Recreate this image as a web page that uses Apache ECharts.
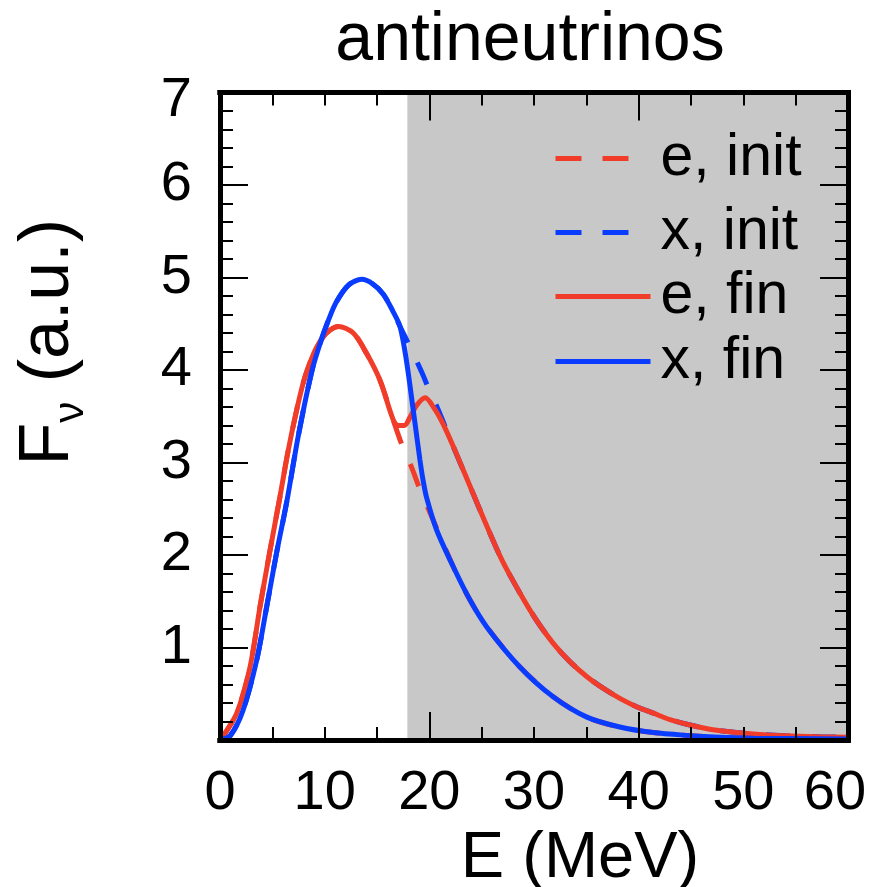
<!DOCTYPE html>
<html>
<head>
<meta charset="utf-8">
<script src="https://cdn.jsdelivr.net/npm/echarts@6/dist/echarts.min.js"></script>
<style>
  html, body { margin: 0; padding: 0; background: #fff; }
  #chart { width: 877px; height: 887px; }
</style>
</head>
<body>
<div id="chart"></div>
<script>
// Antineutrino spectra, [E (MeV), F_nu (a.u.)]
const eFin = [
  [0, 0], [0.3, 0.04], [1.6, 0.29], [2.87, 0.79], [3.82, 1.44], [4.78, 2.05],
  [5.73, 2.63], [6.5, 3.12], [7.33, 3.57], [8.0, 3.88], [8.6, 4.08], [9.2, 4.24],
  [9.87, 4.36], [10.5, 4.43], [11.3, 4.47], [12.73, 4.40], [14.0, 4.18], [15.28, 3.89],
  [16.55, 3.46], [17.0, 3.40], [17.6, 3.40], [18.2, 3.50], [18.8, 3.62], [19.6, 3.70],
  [20.5, 3.58], [21.3, 3.42], [22.3, 3.17], [23.9, 2.74], [25.5, 2.31], [27.0, 1.93],
  [28.65, 1.59], [30.2, 1.30], [31.8, 1.05], [33.4, 0.85], [35.0, 0.69], [36.6, 0.56],
  [38.2, 0.45], [39.8, 0.36], [41.4, 0.29], [43.0, 0.22], [44.6, 0.17], [46.2, 0.13],
  [47.8, 0.10], [50.9, 0.065], [54.1, 0.045], [57.3, 0.035], [60, 0.03]
];
const xFin = [
  [0, 0], [1.0, 0.05], [2.2, 0.32], [3.5, 0.86], [4.46, 1.44], [5.4, 2.02],
  [6.37, 2.57], [7.5, 3.30], [8.76, 3.98], [9.6, 4.30], [10.4, 4.55], [11.14, 4.74],
  [12.3, 4.92], [13.53, 4.98], [14.6, 4.93], [15.6, 4.82], [16.5, 4.64], [17.2, 4.47],
  [17.8, 4.11], [18.46, 3.57], [19.1, 3.03], [19.4, 2.81], [19.74, 2.62], [20.7, 2.27],
  [22.3, 1.87], [23.9, 1.51], [25.5, 1.22], [28.65, 0.79], [31.8, 0.47], [35.0, 0.25],
  [38.2, 0.14], [41.4, 0.08], [44.6, 0.05], [47.8, 0.03], [51.0, 0.02], [55.0, 0.015],
  [60, 0.01]
];
const eInit = [
  [0, 0], [0.3, 0.04], [1.6, 0.29], [2.87, 0.79], [3.82, 1.44], [4.78, 2.05],
  [5.73, 2.63], [6.5, 3.12], [7.33, 3.57], [8.0, 3.88], [8.6, 4.08], [9.2, 4.24],
  [9.87, 4.36], [10.5, 4.43], [11.3, 4.47], [12.73, 4.40], [14.0, 4.18], [15.28, 3.89],
  [16.55, 3.46], [17.35, 3.20], [18.3, 2.95], [19.0, 2.74], [19.9, 2.50], [20.7, 2.29],
  [22.3, 1.87], [23.9, 1.51], [25.5, 1.22], [28.65, 0.79], [31.8, 0.47], [35.0, 0.25],
  [38.2, 0.14], [41.4, 0.08], [44.6, 0.05], [47.8, 0.03], [51.0, 0.02], [55.0, 0.015],
  [60, 0.01]
];
const xInit = [
  [0, 0], [1.0, 0.05], [2.2, 0.32], [3.5, 0.86], [4.46, 1.44], [5.4, 2.02],
  [6.37, 2.57], [7.5, 3.30], [8.76, 3.98], [9.6, 4.30], [10.4, 4.55], [11.14, 4.74],
  [12.3, 4.92], [13.53, 4.98], [14.6, 4.93], [15.6, 4.82], [16.5, 4.64], [17.2, 4.47],
  [18.15, 4.25], [19.26, 3.98], [20.0, 3.78], [20.85, 3.57], [22.3, 3.17], [23.9, 2.74],
  [25.5, 2.31], [27.0, 1.93], [28.65, 1.59], [30.2, 1.30], [31.8, 1.05], [33.4, 0.85],
  [35.0, 0.69], [36.6, 0.56], [38.2, 0.45], [39.8, 0.36], [41.4, 0.29], [43.0, 0.22],
  [44.6, 0.17], [46.2, 0.13], [47.8, 0.10], [50.9, 0.065], [54.1, 0.045], [57.3, 0.035],
  [60, 0.03]
];

// Shaded energy band [from, to] in MeV
const shadedBand = [17.9, 60];

// Axis ranges and labelled ticks
const xRange = [0, 60];
const yRange = [0, 7];
const xLabels = [0, 10, 20, 30, 40, 50, 60];
const yLabels = [1, 2, 3, 4, 5, 6, 7];

const seriesNames = ['e, init', 'x, init', 'e, fin', 'x, fin'];

const FONT = '"Liberation Sans", Arial, Helvetica, sans-serif';
const RED = '#f03c28';
const BLUE = '#0a3cff';
const TICK_FS = 56;

function isInt(v) { return Math.abs(v - Math.round(v)) < 1e-6; }

function frameLine() {
  return { show: true, onZero: false, lineStyle: { color: '#000', width: 5, cap: 'square' } };
}
function ticks(len) {
  return { show: true, inside: true, length: len, lineStyle: { color: '#000', width: 2 } };
}

function xAxisDef(position, interval, len, withLabels) {
  const ax = {
    type: 'value', gridIndex: 0, position: position,
    min: xRange[0], max: xRange[1], interval: interval, z: 5,
    axisLine: frameLine(), axisTick: ticks(len),
    splitLine: { show: false }, axisLabel: { show: false }
  };
  if (withLabels) {
    ax.axisLabel = {
      show: true, margin: 26, showMinLabel: true, showMaxLabel: true, hideOverlap: false,
      formatter: function (v) {
        if (!isInt(v) || xLabels.indexOf(Math.round(v)) < 0) return '';
        const r = Math.round(v);
        return r === xRange[1] ? '{end|' + r + '}' : '{n|' + r + '}';
      },
      rich: {
        n: { fontSize: TICK_FS, fontFamily: FONT, color: '#000' },
        end: { fontSize: TICK_FS, fontFamily: FONT, color: '#000', padding: [0, 26, 0, 0] }
      }
    };
    ax.name = 'E (MeV)';
    ax.nameLocation = 'middle';
    ax.nameGap = 80;
    ax.nameTextStyle = { fontSize: 65, fontFamily: FONT, color: '#000', padding: [0, 0, 0, 92] };
  }
  return ax;
}

function yAxisDef(position, interval, len, withLabels) {
  const ax = {
    type: 'value', gridIndex: 0, position: position,
    min: yRange[0], max: yRange[1], interval: interval, z: 5,
    axisLine: frameLine(), axisTick: ticks(len),
    splitLine: { show: false }, axisLabel: { show: false }
  };
  if (withLabels) {
    ax.axisLabel = {
      show: true, margin: 28, showMinLabel: true, showMaxLabel: true, hideOverlap: false,
      formatter: function (v) {
        if (!isInt(v) || yLabels.indexOf(Math.round(v)) < 0) return '';
        const r = Math.round(v);
        return r === yRange[1] ? '{top|' + r + '}' : '{n|' + r + '}';
      },
      rich: {
        n: { fontSize: TICK_FS, fontFamily: FONT, color: '#000' },
        top: { fontSize: TICK_FS, fontFamily: FONT, color: '#000', padding: [16, 0, 0, 0] }
      }
    };
    ax.name = '{a|F}{s|ν}{a| (a.u.)}';
    ax.nameLocation = 'middle';
    ax.nameRotate = 90;
    ax.nameGap = 128;
    ax.nameTextStyle = {
      padding: [0, 0, 0, 148],
      rich: {
        a: { fontSize: 70, fontFamily: FONT, color: '#000', verticalAlign: 'top', lineHeight: 78 },
        s: { fontSize: 42, fontFamily: FONT, color: '#000', verticalAlign: 'bottom', lineHeight: 10 }
      }
    };
  }
  return ax;
}

function lineSeries(name, data, color, dashed) {
  return {
    name: name, type: 'line', data: data, xAxisIndex: 0, yAxisIndex: 0,
    showSymbol: false, symbol: 'none', smooth: 0.3, z: 2,
    lineStyle: { color: color, width: 5, type: dashed ? [24, 22] : 'solid' },
    itemStyle: { color: color },
    emphasis: { disabled: true }
  };
}

const legendCenters = [158, 232, 296, 361];

const legends = seriesNames.map(function (name, i) {
  const dashed = i < 2;
  return {
    data: [name], orient: 'vertical', left: 553, top: legendCenters[i] - 29,
    padding: 0, itemWidth: 95, itemHeight: 58, selectedMode: false,
    itemStyle: { opacity: 0 },
    lineStyle: dashed ? { width: 5, type: [26, 21, 26, 100] } : { width: 5 },
    textStyle: { fontSize: 59, fontFamily: FONT, color: '#000', padding: [0, 0, 0, 5] }
  };
});

const chart = echarts.init(document.getElementById('chart'), null, { renderer: 'canvas' });

const eInitSeries = lineSeries(seriesNames[0], eInit, RED, true);
eInitSeries.markArea = {
  silent: true, z: 1,
  itemStyle: { color: '#c8c8c8', borderWidth: 0 },
  data: [[{ xAxis: shadedBand[0] }, { xAxis: shadedBand[1] }]]
};

chart.setOption({
  animation: false,
  backgroundColor: '#fff',
  title: {
    text: 'antineutrinos', left: 525, top: 2, textAlign: 'center',
    textStyle: { fontSize: 68, fontWeight: 'normal', fontFamily: FONT, color: '#000' }
  },
  legend: legends,
  grid: { left: 220, right: 29, top: 92.5, bottom: 147, containLabel: false, outerBoundsMode: 'none' },
  xAxis: [
    xAxisDef('bottom', 5, 13, true),
    xAxisDef('bottom', 20, 28, false),
    xAxisDef('top', 5, 13, false),
    xAxisDef('top', 20, 28, false)
  ],
  yAxis: [
    yAxisDef('left', 0.2, 13, true),
    yAxisDef('left', 1, 28, false),
    yAxisDef('right', 0.2, 13, false),
    yAxisDef('right', 1, 28, false)
  ],
  series: [
    eInitSeries,
    lineSeries(seriesNames[1], xInit, BLUE, true),
    lineSeries(seriesNames[2], eFin, RED, false),
    lineSeries(seriesNames[3], xFin, BLUE, false)
  ]
});
</script>
</body>
</html>
